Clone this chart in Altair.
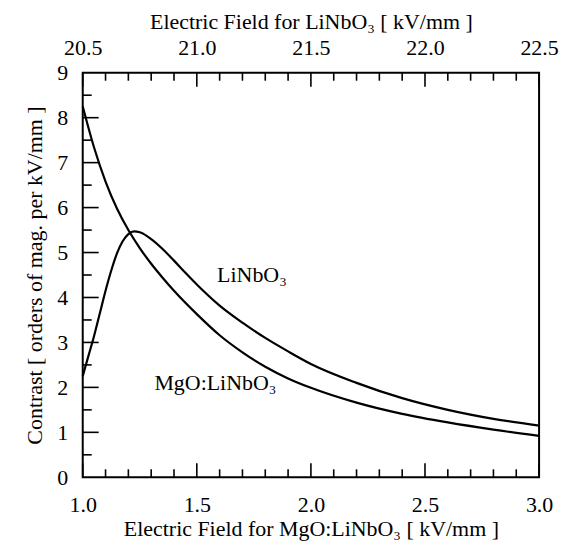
import altair as alt
import pandas as pd

# MgO:LiNbO3 curve (bottom axis, kV/mm)
mgo_field = [1.00, 1.05, 1.10, 1.15, 1.20, 1.25, 1.30, 1.35, 1.40, 1.50, 1.60, 1.70,
             1.80, 1.90, 2.00, 2.20, 2.40, 2.60, 2.80, 3.00]
mgo_contrast = [8.25, 7.33, 6.58, 5.98, 5.50, 5.10, 4.75, 4.44, 4.15, 3.63, 3.16, 2.78,
                2.46, 2.20, 1.99, 1.66, 1.41, 1.22, 1.06, 0.92]

# LiNbO3 curve (top axis, kV/mm)
lin_field = [20.50, 20.525, 20.55, 20.575, 20.60, 20.625, 20.65, 20.675, 20.70, 20.725,
             20.75, 20.80, 20.85, 20.90, 20.95, 21.00, 21.10, 21.20, 21.30, 21.40,
             21.50, 21.70, 21.90, 22.10, 22.30, 22.50]
lin_contrast = [2.25, 2.70, 3.15, 3.65, 4.15, 4.60, 4.98, 5.25, 5.41, 5.47,
                5.45, 5.30, 5.08, 4.82, 4.55, 4.29, 3.82, 3.44, 3.10, 2.80,
                2.52, 2.10, 1.76, 1.50, 1.30, 1.15]

bottom_major = [1.0, 1.5, 2.0, 2.5, 3.0]
bottom_minor = [1.1, 1.2, 1.3, 1.4, 1.6, 1.7, 1.8, 1.9, 2.1, 2.2, 2.3, 2.4, 2.6, 2.7, 2.8, 2.9]
top_major = [20.5, 21.0, 21.5, 22.0, 22.5]
top_minor = [20.6, 20.7, 20.8, 20.9, 21.1, 21.2, 21.3, 21.4, 21.6, 21.7, 21.8, 21.9,
             22.1, 22.2, 22.3, 22.4]
y_major = [1, 2, 3, 4, 5, 6, 7, 8]
y_minor = [0.5, 1.5, 2.5, 3.5, 4.5, 5.5, 6.5, 7.5, 8.5]

label_text = ["LiNbO₃", "MgO:LiNbO₃"]
label_x = [1.589, 1.314]
label_y = [4.34, 1.94]

W, H = 458, 406
FONT = "Liberation Serif"
MAJ, MIN = 14, 8

XB = alt.Scale(domain=[1.0, 3.0], nice=False, zero=False)
XT = alt.Scale(domain=[20.5, 22.5], nice=False, zero=False)
YS = alt.Scale(domain=[0, 9], nice=False, zero=True)

y_axis = alt.Axis(values=list(range(0, 10)), ticks=False, domain=False, grid=False,
                  labelPadding=15, titlePadding=10, format="d", labelFlush=False,
                  title="Contrast [ orders of mag. per kV/mm ]")

def yenc(field):
    return alt.Y(f"{field}:Q", scale=YS, axis=y_axis)

mgo_df = pd.DataFrame({"f": mgo_field, "c": mgo_contrast})
lin_df = pd.DataFrame({"f": lin_field, "c": lin_contrast})

line_mgo = alt.Chart(mgo_df).mark_line(color="black", strokeWidth=2.2, interpolate="monotone").encode(
    x=alt.X("f:Q", scale=XB,
            axis=alt.Axis(orient="bottom", values=bottom_major, format=".1f", ticks=False,
                          domain=False, grid=False, labelPadding=17, titlePadding=3,
                          labelFlush=False,
                          title="Electric Field for MgO:LiNbO₃ [ kV/mm ]")),
    y=yenc("c"),
)

line_lin = alt.Chart(lin_df).mark_line(color="black", strokeWidth=2.2, interpolate="monotone").encode(
    x=alt.X("f:Q", scale=XT,
            axis=alt.Axis(orient="top", values=top_major, format=".1f", ticks=False,
                          domain=False, grid=False, labelPadding=13, titlePadding=3,
                          labelFlush=False,
                          title="Electric Field for LiNbO₃ [ kV/mm ]")),
    y=yenc("c"),
)

def xticks(vals, scale, top, length):
    df = pd.DataFrame({"v": vals})
    if top:
        y0, y1 = 0, length
    else:
        y0, y1 = H, H - length
    return alt.Chart(df).mark_rule(color="black", strokeWidth=1.6).encode(
        x=alt.X("v:Q", scale=scale, axis=None),
        y=alt.value(y0), y2=alt.value(y1),
    )

def yticks(vals, length):
    df = pd.DataFrame({"v": vals})
    return alt.Chart(df).mark_rule(color="black", strokeWidth=1.6).encode(
        y=yenc("v"),
        x=alt.value(0), x2=alt.value(length),
    )

labels_df = pd.DataFrame({"t": label_text, "x": label_x, "y": label_y})
labels = alt.Chart(labels_df).mark_text(
    font=FONT, fontSize=22, align="left", baseline="alphabetic", color="black"
).encode(
    x=alt.X("x:Q", scale=XB, axis=None),
    y=yenc("y"),
    text="t:N",
)

chart = alt.layer(
    line_mgo, line_lin,
    xticks(bottom_major, XB, False, MAJ), xticks(bottom_minor, XB, False, MIN),
    xticks(top_major, XT, True, MAJ), xticks(top_minor, XT, True, MIN),
    yticks(y_major, MAJ + 2), yticks(y_minor, MIN + 1),
    labels,
).resolve_scale(x="independent").properties(
    width=W, height=H,
    background="white",
    autosize=alt.AutoSizeParams(type="none"),
    padding={"left": 75, "top": 64, "right": 22, "bottom": 68},
).configure_view(
    stroke="black", strokeWidth=2
).configure_axis(
    labelFont=FONT, titleFont=FONT, labelFontSize=22, titleFontSize=22,
    labelColor="black", titleColor="black", titleFontWeight="normal",
)

chart.save("out.html", embed_options={"renderer": "svg", "actions": False})
